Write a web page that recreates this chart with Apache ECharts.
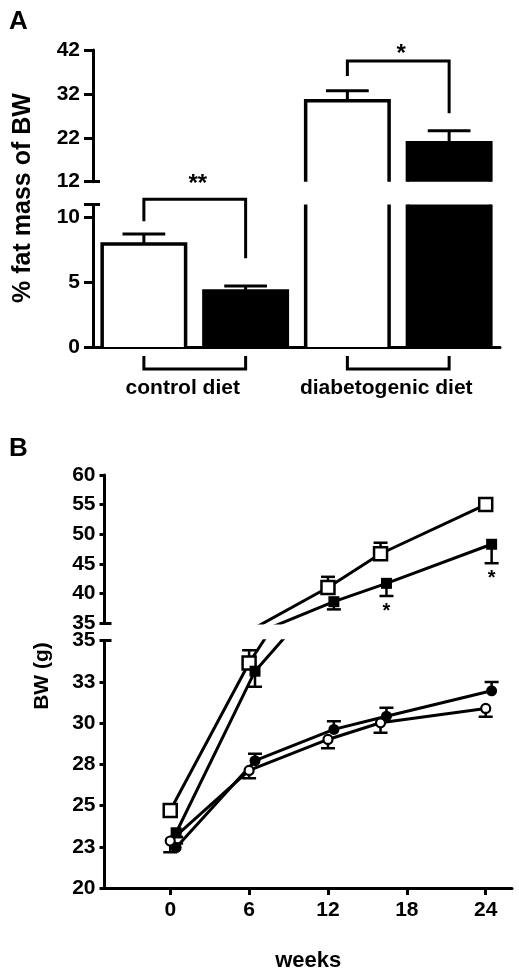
<!DOCTYPE html>
<html><head><meta charset="utf-8">
<script src="https://cdn.jsdelivr.net/npm/echarts@6/dist/echarts.min.js"></script>
<style>html,body{margin:0;padding:0;background:#fff}#c{width:519px;height:975px}</style>
</head><body><div id="c"></div>
<script>
// ===== Panel A data =====
const groupNamesA = ['control diet', 'diabetogenic diet'];
const groupFromA = [0, 2];
const groupToA = [1, 3];
const barCats = ['control / white', 'control / black', 'diabetogenic / white', 'diabetogenic / black'];
const barValues = [7.95, 4.32, 30.45, 20.9];
const barErrTop = [8.73, 4.71, 32.73, 23.6];
const barFills = ['#ffffff', '#000000', '#ffffff', '#000000'];
const yTicksAUpper = [12, 22, 32, 42];
const yTicksALower = [0, 5, 10];
// significance brackets (axis units)
const sigFrom = [0, 2];
const sigTo = [1, 3];
const sigTop = [11.4, 39.5];
const sigLeftEnd = [9.7, 36.1];
const sigRightEnd = [6.85, 27.6];
const sigLabelLevel = [12.75, 41.6];
const sigLabel = ['**', '*'];

// ===== Panel B data =====
const xTicksB = [0, 6, 12, 18, 24];
const yTicksBUpper = [35, 40, 45, 50, 55, 60];
const yTicksBLower = [20, 22.5, 25, 27.5, 30, 32.5, 35];
const weeksOpen = [0, 6, 12, 16, 24];
const weeksFilled = [0.45, 6.45, 12.45, 16.45, 24.45];
const openSquare = [24.7, 33.65, 41.0, 46.7, 55.0];
const openSquareErr = [24.9, 34.42, 42.8, 48.56, 55.3];
const filledSquare = [23.35, 33.15, 38.6, 41.7, 48.3];
const filledSquareErr = [23.1, 32.2, 37.3, 39.56, 45.1];
const filledCircle = [22.45, 27.72, 29.62, 30.42, 31.96];
const filledCircleErr = [22.7, 28.14, 30.12, 30.93, 32.5];
const openCircle = [22.85, 27.13, 29.01, 30.02, 30.89];
const openCircleErr = [22.17, 26.65, 28.47, 29.41, 30.38];
const sigB = ['', '', '', '*', '*'];

// ===== styling / layout =====
const FONT = '"Liberation Sans", Arial, sans-serif';
const A_UP = {min: 12, max: 42}, A_LO = {min: 0, max: 11};
const B_UP = {min: 35, max: 60}, B_LO = {min: 20, max: 35};
const BAR_FRAC = 0.82, BAR_STROKE = 3.5, CAP_FRAC = 0.42;
const txt = (sz) => ({color: '#000', fontFamily: FONT, fontWeight: 'bold', fontSize: sz});

function barItem(ext) {
  return function (params, api) {
    const i = api.value(0), v = api.value(1);
    const lo = Math.max(ext.min, 0), hi = Math.min(v, ext.max);
    if (hi <= lo) return null;
    const band = api.size([1, 0])[0];
    const w = band * BAR_FRAC;
    const cx = api.coord([i, 0])[0];
    const yT = api.coord([i, hi])[1], yB = api.coord([i, lo])[1];
    const L = cx - w / 2, R = cx + w / 2;
    const st = {stroke: '#000', lineWidth: BAR_STROKE, fill: null, lineJoin: 'miter'};
    const kids = [{type: 'rect', shape: {x: L, y: yT, width: w, height: yB - yT}, style: {fill: barFills[i]}}];
    if (v <= ext.max) {
      kids.push({type: 'polyline', shape: {points: [[L, yB], [L, yT], [R, yT], [R, yB]]}, style: st});
    } else {
      kids.push({type: 'line', shape: {x1: L, y1: yB, x2: L, y2: yT}, style: st});
      kids.push({type: 'line', shape: {x1: R, y1: yB, x2: R, y2: yT}, style: st});
    }
    return {type: 'group', children: kids};
  };
}
function errAItem(ext) {
  return function (params, api) {
    const i = api.value(0), v = api.value(1), e = api.value(2);
    if (v < ext.min || v > ext.max) return null;
    const cx = api.coord([i, 0])[0];
    const y1 = api.coord([i, v])[1], y2 = api.coord([i, e])[1];
    const cw = api.size([1, 0])[0] * CAP_FRAC;
    const st = {stroke: '#000', lineWidth: 3};
    return {type: 'group', children: [
      {type: 'line', shape: {x1: cx, y1: y1, x2: cx, y2: y2}, style: st},
      {type: 'line', shape: {x1: cx - cw / 2, y1: y2, x2: cx + cw / 2, y2: y2}, style: st}
    ]};
  };
}
function sigItem(params, api) {
  const f = api.value(0), t = api.value(1), top = api.value(2), le = api.value(3), re = api.value(4), lab = api.value(5);
  const x1 = api.coord([f, top])[0], x2 = api.coord([t, top])[0];
  const yT = api.coord([f, top])[1], yL = api.coord([f, le])[1], yR = api.coord([f, re])[1];
  const yLab = api.coord([f, lab])[1];
  return {type: 'group', children: [
    {type: 'polyline', shape: {points: [[x1, yL], [x1, yT], [x2, yT], [x2, yR]]},
     style: {stroke: '#000', lineWidth: 3, fill: null}},
    {type: 'text', x: (x1 + x2) / 2 + 3, y: yLab + 15,
     style: {text: api.value(6) === 2 ? '**' : '*', align: 'center', verticalAlign: 'bottom',
             fill: '#000', fontFamily: FONT, fontWeight: 'bold', fontSize: 24}}
  ]};
}
function groupItem(params, api) {
  const f = api.value(0), t = api.value(1);
  const x1 = api.coord([f, 0])[0], x2 = api.coord([t, 0])[0];
  const y0 = api.coord([f, 0])[1];
  return {type: 'group', children: [
    {type: 'polyline', shape: {points: [[x1, y0 + 9], [x1, y0 + 22], [x2, y0 + 22], [x2, y0 + 9]]},
     style: {stroke: '#000', lineWidth: 3, fill: null}},
    {type: 'text', x: (x1 + x2) / 2 - 12, y: y0 + 41,
     style: {text: groupNamesA[params.dataIndex], align: 'center', verticalAlign: 'middle',
             fill: '#000', fontFamily: FONT, fontWeight: 'bold', fontSize: 21}}
  ]};
}
function errBItem(params, api) {
  const x = api.value(0), y = api.value(1), e = api.value(2);
  const p = api.coord([x, y]), q = api.coord([x, e]);
  const st = {stroke: '#000', lineWidth: 2.5};
  return {type: 'group', children: [
    {type: 'line', shape: {x1: p[0], y1: p[1], x2: q[0], y2: q[1]}, style: st},
    {type: 'line', shape: {x1: q[0] - 7, y1: q[1], x2: q[0] + 7, y2: q[1]}, style: st}
  ]};
}
function starBItem(params, api) {
  const p = api.coord([api.value(0), api.value(1)]);
  return {type: 'text', x: p[0], y: p[1] + 5,
    style: {text: '*', align: 'center', verticalAlign: 'top', fill: '#000',
            fontFamily: FONT, fontWeight: 'bold', fontSize: 20}};
}

const barData = barValues.map((v, i) => [i, v]);
const errAData = barValues.map((v, i) => [i, v, barErrTop[i]]);
const sigData = sigFrom.map((f, i) => [f, sigTo[i], sigTop[i], sigLeftEnd[i], sigRightEnd[i], sigLabelLevel[i], sigLabel[i].length]);
const sigLo = sigData.filter(d => d[2] < A_UP.min);
const sigHi = sigData.filter(d => d[2] >= A_UP.min);
const groupData = groupFromA.map((f, i) => [f, groupToA[i]]);

const pts = (xs, ys) => xs.map((x, i) => [x, ys[i]]);
const errPts = (xs, ys, es) => xs.map((x, i) => [x, ys[i], es[i]]);
const starData = weeksFilled.map((x, i) => [x, filledSquareErr[i], sigB[i]]).filter(d => d[2]);

const seriesDefs = [
  {d: pts(weeksOpen, openSquare), e: errPts(weeksOpen, openSquare, openSquareErr), sym: 'rect', size: 13, fill: '#fff', bw: 2.5},
  {d: pts(weeksFilled, filledSquare), e: errPts(weeksFilled, filledSquare, filledSquareErr), sym: 'rect', size: 11, fill: '#000', bw: 0},
  {d: pts(weeksOpen, openCircle), e: errPts(weeksOpen, openCircle, openCircleErr), sym: 'circle', size: 9, fill: '#fff', bw: 2.2},
  {d: pts(weeksFilled, filledCircle), e: errPts(weeksFilled, filledCircle, filledCircleErr), sym: 'circle', size: 11, fill: '#000', bw: 0}
];

const series = [];
// Panel A
[[0, A_UP], [1, A_LO]].forEach(([g, ext]) => {
  series.push({type: 'custom', xAxisIndex: g, yAxisIndex: g, renderItem: barItem(ext), data: barData, encode: {x: 0, y: 1}, z: 3, clip: false});
  series.push({type: 'custom', xAxisIndex: g, yAxisIndex: g, renderItem: errAItem(ext), data: errAData, encode: {x: 0, y: 1}, z: 2, clip: false});
});
series.push({type: 'custom', xAxisIndex: 1, yAxisIndex: 1, renderItem: sigItem, data: sigLo, encode: {x: 0, y: 2}, clip: false});
series.push({type: 'custom', xAxisIndex: 0, yAxisIndex: 0, renderItem: sigItem, data: sigHi, encode: {x: 0, y: 2}, clip: false});
series.push({type: 'custom', xAxisIndex: 1, yAxisIndex: 1, renderItem: groupItem, data: groupData, encode: {x: 0}, clip: false});
// Panel B
[2, 3].forEach(g => {
  seriesDefs.forEach(s => {
    series.push({type: 'custom', xAxisIndex: g, yAxisIndex: g, renderItem: errBItem, data: s.e, encode: {x: 0, y: 1}, clip: true, z: 1});
    series.push({type: 'line', xAxisIndex: g, yAxisIndex: g, data: s.d, symbol: s.sym, symbolSize: s.size, showSymbol: true,
      clip: true, animation: false, lineStyle: {color: '#000', width: 3},
      itemStyle: {color: s.fill, borderColor: '#000', borderWidth: s.bw}, z: 2});
  });
});
series.push({type: 'custom', xAxisIndex: 2, yAxisIndex: 2, renderItem: starBItem, data: starData, encode: {x: 0, y: 1}, clip: false});

function yMain(g, ext, ticks, labels, margin, tickLen, fmt) {
  return {type: 'value', gridIndex: g, min: ext.min, max: ext.max, position: 'left',
    axisLine: {show: true, onZero: false, lineStyle: {color: '#000', width: 3}},
    axisTick: {show: true, length: tickLen, lineStyle: {color: '#000', width: 3}, customValues: ticks},
    axisLabel: Object.assign({customValues: labels, margin: margin, formatter: fmt}, txt(21)),
    splitLine: {show: false}};
}
function yCap(g, ext, v) {
  return {type: 'value', gridIndex: g, min: ext.min, max: ext.max, position: 'left',
    axisLine: {show: false, onZero: false}, axisLabel: {show: false}, splitLine: {show: false},
    axisTick: {show: true, inside: true, length: 7, lineStyle: {color: '#000', width: 3}, customValues: [v]}};
}
const roundFmt = v => String(Math.round(v));

const option = {
  animation: false,
  backgroundColor: '#fff',
  grid: [
    {left: 93, right: 19, top: 50, height: 131.7},
    {left: 93, right: 19, top: 204.5, height: 142.5},
    {left: 104.5, right: 7, top: 475, height: 148},
    {left: 104.5, right: 7, top: 640.7, height: 247.3}
  ],
  xAxis: [
    {type: 'category', gridIndex: 0, data: barCats, show: false},
    {type: 'category', gridIndex: 1, data: barCats, position: 'bottom',
      axisLine: {show: true, onZero: false, lineStyle: {color: '#000', width: 3}}, axisTick: {show: false}, axisLabel: {show: false}},
    {type: 'value', gridIndex: 2, min: -5, max: 26, show: false},
    {type: 'value', gridIndex: 3, min: -5, max: 26, position: 'bottom',
      axisLine: {show: true, onZero: false, lineStyle: {color: '#000', width: 3}},
      axisTick: {show: true, length: 7, lineStyle: {color: '#000', width: 3}, customValues: xTicksB},
      axisLabel: Object.assign({customValues: xTicksB, margin: 12}, txt(21)),
      splitLine: {show: false},
      name: 'weeks', nameLocation: 'middle', nameGap: 62, nameTextStyle: txt(22)}
  ],
  yAxis: [
    yMain(0, A_UP, yTicksAUpper, yTicksAUpper, 13, 9, roundFmt),
    yMain(1, A_LO, yTicksALower.concat([A_LO.max]), yTicksALower, 13, 9, roundFmt),
    yMain(2, B_UP, yTicksBUpper, yTicksBUpper, 9, 5, roundFmt),
    yMain(3, B_LO, yTicksBLower, yTicksBLower, 9, 5, roundFmt),
    yCap(0, A_UP, A_UP.min),
    yCap(1, A_LO, A_LO.max),
    yCap(2, B_UP, B_UP.min),
    yCap(3, B_LO, B_LO.max)
  ],
  graphic: [
    {type: 'text', left: 9, top: 9, style: {text: 'A', fill: '#000', fontFamily: FONT, fontWeight: 'bold', fontSize: 26}},
    {type: 'text', left: 9, top: 436, style: {text: 'B', fill: '#000', fontFamily: FONT, fontWeight: 'bold', fontSize: 26}},
    {type: 'text', x: 23, y: 198, rotation: Math.PI / 2,
      style: {text: '% fat mass of BW', align: 'center', verticalAlign: 'middle', fill: '#000', fontFamily: FONT, fontWeight: 'bold', fontSize: 25}},
    {type: 'text', x: 42, y: 676, rotation: Math.PI / 2,
      style: {text: 'BW (g)', align: 'center', verticalAlign: 'middle', fill: '#000', fontFamily: FONT, fontWeight: 'bold', fontSize: 21}}
  ],
  series: series
};
const chart = echarts.init(document.getElementById('c'));
chart.setOption(option);
</script>
</body></html>
